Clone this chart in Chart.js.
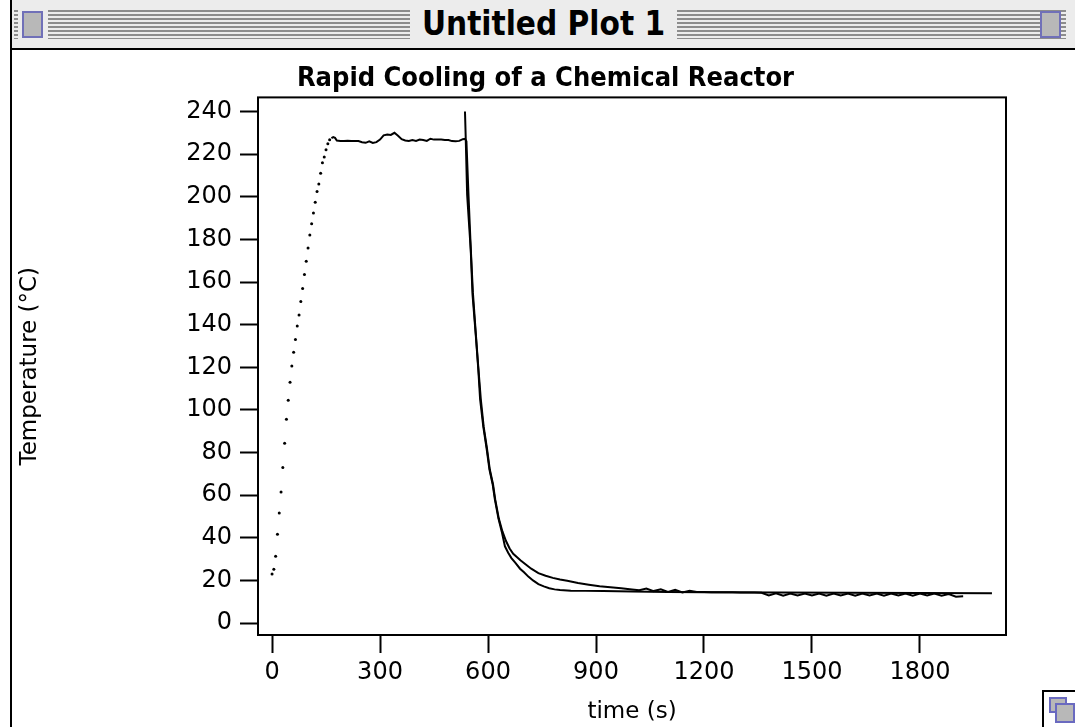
<!DOCTYPE html>
<html>
<head>
<meta charset="utf-8">
<title>Untitled Plot 1</title>
<script src="https://cdn.jsdelivr.net/npm/chart.js@4.4.0/dist/chart.umd.min.js"></script>
<style>
  body { margin: 0; width: 1075px; height: 727px; overflow: hidden; background: #fff; position: relative; font-family: "DejaVu Sans", sans-serif; }
  #leftEdge { position: absolute; left: 10px; top: 0; width: 2px; height: 727px; background: #000; }
  #titlebar { position: absolute; left: 12px; top: 0; width: 1063px; height: 48px; background: #ececec; border-bottom: 2px solid #000; }
  .stripes { position: absolute; top: 10px; height: 29px; background: repeating-linear-gradient(to bottom, #8c8c8c 0, #8c8c8c 2px, #ececec 2px, #ececec 4px); }
  #winTitle { position: absolute; left: 0; width: 1063px; top: 4px; text-align: center; font: bold 33px "DejaVu Sans Condensed", "DejaVu Sans", sans-serif; color: #000; }
  #winTitle span { background: #ececec; padding: 0 12px; }
  .box { position: absolute; top: 11px; width: 17px; height: 23px; background: #b8b8b8; border: 2px solid #7070b8; }
  #growBox { position: absolute; left: 1042px; top: 690px; width: 40px; height: 40px; background: #fff; border: 2px solid #000; }
  #growBox div { position: absolute; border: 2px solid #6a6ac0; background: #b8b8b8; }
  #chartWrap { position: absolute; left: 0; top: 0; width: 1075px; height: 727px; z-index: 2; }
</style>
</head>
<body>
<div id="leftEdge"></div>
<div id="titlebar">
  <div class="stripes" style="left: 2px; width: 4px;"></div>
  <div class="box" style="left: 10px;"></div>
  <div class="stripes" style="left: 36px; width: 1018px;"></div>
  <div id="winTitle"><span>Untitled Plot 1</span></div>
  <div class="box" style="left: 1028px;"></div>
</div>
<div id="growBox"><div style="left: 5px; top: 5px; width: 14px; height: 12px;"></div><div style="left: 11px; top: 11px; width: 16px; height: 16px;"></div></div>
<div id="chartWrap"><canvas id="plot" width="1075" height="727"></canvas></div>
<script>
// heating phase, sampled points (s, degC)
const heatTime = [0, 5, 10, 15, 20, 25, 30, 35, 40, 45, 50, 55, 60, 65, 70, 75, 80,
  85, 90, 95, 100, 105, 110, 115, 120, 125, 130, 135, 140, 145, 150, 155, 160];
const heatTemp = [23, 25.3, 31.4, 41.7, 51.6, 61.5, 73, 84.4, 95.6, 104.5, 113, 120.6, 127,
  133, 139.4, 144.5, 150.8, 157, 163.5, 169.7, 176, 182, 187.3, 192.4, 197.4, 202.4, 206,
  211, 216, 218.6, 222, 224.8, 226.7];

// measured run: plateau, quench and cold end
const runTime = [165, 170, 175, 180, 190, 200, 210, 220, 230, 240, 250, 260, 270, 280, 290,
  300, 310, 320, 330, 340, 350, 360, 370, 380, 390, 400, 410, 420, 430, 440, 450, 460, 470,
  480, 490, 500, 510, 520, 530, 536,
  540, 546, 552, 558, 566, 573, 580, 588, 597, 605, 614, 620, 630, 640, 650, 660, 670, 680,
  690, 705, 720, 740, 760, 780, 800, 820, 850, 880, 910, 940, 970, 1000,
  1020, 1040, 1060, 1080, 1100, 1120, 1140, 1160, 1180, 1200, 1220, 1240, 1260, 1280, 1300,
  1320, 1340, 1360, 1380, 1400, 1420, 1440, 1460, 1480, 1500, 1520, 1540, 1560, 1580, 1600,
  1620, 1640, 1660, 1680, 1700, 1720, 1740, 1760, 1780, 1800, 1820, 1840, 1860, 1880, 1900, 1920];
const runTemp = [227.5, 228, 227.6, 226.4, 226.2, 226.2, 226.3, 226.2, 226.2, 226.1, 225.6,
  225.3, 226, 225.2, 225.6, 226.8, 228.8, 229.2, 229, 230, 228.6, 227, 226.4, 226.2, 226.6,
  226.2, 226.8, 226.6, 226.2, 227.2, 226.8, 226.8, 226.8, 226.6, 226.6, 226.1, 226, 226.2, 227, 227.2,
  226, 200, 176, 155, 136, 120, 105, 92, 82, 72, 65, 58, 49, 43, 38.5, 35, 32.5, 31,
  29.5, 27.5, 25.5, 23.4, 22.2, 21.2, 20.4, 19.8, 18.8, 18, 17.3, 16.8, 16.3, 15.8,
  15.4, 16.2, 15, 15.8, 14.6, 15.6, 14.4, 15.2, 14.6, 14.6, 14.5, 14.5, 14.4, 14.4, 14.3,
  14.3, 14.3, 14.2, 13, 14, 12.8, 13.8, 12.9, 13.9, 13, 13.8, 12.8, 13.9, 12.9, 13.8,
  12.8, 13.9, 12.9, 13.8, 12.8, 13.9, 13, 13.8, 12.8, 13.9, 12.9, 13.8, 12.8, 13.6, 12.4, 12.6];

// cooling curve (fit)
const fitTime = [536, 538, 542, 547, 552, 557, 566, 573, 578, 587, 596, 604, 613, 619, 629,
  638, 647, 656, 665, 675, 689, 700, 712, 725, 740, 755, 770, 785, 800, 830, 870, 920, 1000,
  1100, 1200, 1400, 1600, 1800, 2000];
const fitTemp = [240, 228, 201, 188, 175, 154, 135, 119, 105, 92, 82, 72, 65, 58, 49,
  43, 36, 33, 30.5, 28.5, 25.5, 23.8, 21.8, 20, 18.3, 17.2, 16.3, 15.8, 15.5, 15.2, 15.1, 15, 14.8,
  14.6, 14.5, 14.3, 14.2, 14.1, 14];

const xTicks = [0, 300, 600, 900, 1200, 1500, 1800];
const yTicks = [0, 20, 40, 60, 80, 100, 120, 140, 160, 180, 200, 220, 240];

const toPoints = (xs, ys) => xs.map((x, i) => ({ x: x, y: ys[i] }));

// closed frame around the plot area
const frameBox = {
  id: "frameBox",
  afterDatasetsDraw(chart) {
    const { ctx, chartArea } = chart;
    ctx.save();
    ctx.strokeStyle = "#000";
    ctx.lineWidth = 2;
    ctx.strokeRect(chartArea.left, chartArea.top, chartArea.right - chartArea.left, chartArea.bottom - chartArea.top);
    ctx.restore();
  }
};

Chart.defaults.font.family = "'DejaVu Sans', sans-serif";
Chart.defaults.color = "#000";

const ctx = document.getElementById("plot").getContext("2d");
new Chart(ctx, {
  type: "scatter",
  data: {
    datasets: [
      {
        label: "heating",
        data: toPoints(heatTime, heatTemp),
        showLine: false,
        pointRadius: 1.5,
        pointBorderWidth: 0,
        pointBackgroundColor: "#000"
      },
      {
        label: "measured",
        data: toPoints(runTime, runTemp),
        showLine: true,
        borderColor: "#000",
        borderWidth: 2,
        pointRadius: 0,
        tension: 0
      },
      {
        label: "fit",
        data: toPoints(fitTime, fitTemp),
        showLine: true,
        borderColor: "#000",
        borderWidth: 2,
        pointRadius: 0,
        tension: 0
      }
    ]
  },
  options: {
    responsive: false,
    animation: false,
    devicePixelRatio: 1,
    layout: { padding: { top: 52, left: 16, right: 0, bottom: 0 } },
    plugins: {
      legend: { display: false },
      tooltip: { enabled: false },
      title: {
        display: true,
        text: "Rapid Cooling of a Chemical Reactor",
        font: { family: "'DejaVu Sans Condensed', 'DejaVu Sans', sans-serif", size: 27, weight: "bold" },
        padding: { top: 11, bottom: 2 }
      }
    },
    scales: {
      x: {
        type: "linear",
        min: -39,
        max: 2039,
        afterBuildTicks: (axis) => { axis.ticks = xTicks.map((v) => ({ value: v })); },
        afterFit: (axis) => { axis.height = 92; },
        border: { display: false },
        grid: { drawOnChartArea: false, drawTicks: true, tickLength: 18, tickColor: "#000", tickWidth: 2 },
        ticks: { font: { size: 24 }, padding: 5, maxRotation: 0, callback: (v) => String(v) },
        title: { display: true, text: "time (s)", font: { size: 23 }, padding: { top: 0, bottom: 1 } }
      },
      y: {
        type: "linear",
        min: -5.6,
        max: 246.6,
        afterBuildTicks: (axis) => { axis.ticks = yTicks.map((v) => ({ value: v })); },
        afterFit: (axis) => { axis.width = 242; },
        border: { display: false },
        grid: { drawOnChartArea: false, drawTicks: true, tickLength: 18, tickColor: "#000", tickWidth: 2 },
        ticks: { font: { size: 24 }, padding: 8, callback: (v) => String(v) },
        title: { display: true, text: "Temperature (°C)", font: { size: 23 }, padding: { top: 0, bottom: 0 } }
      },
      yRight: {
        type: "linear",
        position: "right",
        afterFit: (axis) => { axis.width = 69; },
        border: { display: false },
        grid: { display: false },
        ticks: { display: false }
      }
    }
  },
  plugins: [frameBox]
});
</script>
</body>
</html>
